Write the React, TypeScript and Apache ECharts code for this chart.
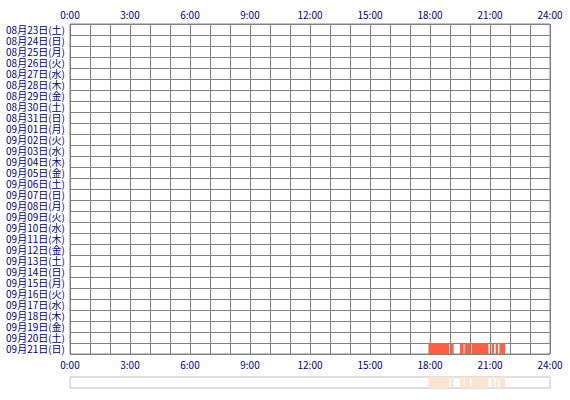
import React, { useEffect, useRef } from 'react';
import * as echarts from 'echarts';

// days shown on the y axis, top to bottom
const days = [
  '08月23日(土)', '08月24日(日)', '08月25日(月)', '08月26日(火)', '08月27日(水)',
  '08月28日(木)', '08月29日(金)', '08月30日(土)', '08月31日(日)', '09月01日(月)',
  '09月02日(火)', '09月03日(水)', '09月04日(木)', '09月05日(金)', '09月06日(土)',
  '09月07日(日)', '09月08日(月)', '09月09日(火)', '09月10日(水)', '09月11日(木)',
  '09月12日(金)', '09月13日(土)', '09月14日(日)', '09月15日(月)', '09月16日(火)',
  '09月17日(水)', '09月18日(木)', '09月19日(金)', '09月20日(土)', '09月21日(日)',
];

// active periods (hours of the day) on 09月21日
const segDay = '09月21日(日)';
const segStart = [17.92, 19.05, 19.5, 19.73, 20.08, 21.08, 21.28, 21.47];
const segEnd = [18.95, 19.18, 19.68, 20.0, 20.92, 21.2, 21.4, 21.75];

const hourTicks = [0, 3, 6, 9, 12, 15, 18, 21, 24];

const labelFont = '"Noto Sans CJK JP", "DejaVu Sans", sans-serif';
const navy = '#000080';

const App: React.FC = () => {
  const chartRef = useRef<HTMLDivElement>(null);

  useEffect(() => {
    if (!chartRef.current) return;
    const chart = echarts.init(chartRef.current, undefined, { renderer: 'svg' });

    const dayIndex = days.indexOf(segDay);
    const segData = segStart.map((s, i) => [s, segEnd[i], dayIndex]);
    const overviewData = segStart.map((s, i) => [s, segEnd[i], 0]);

    const makeRender = (color: string) => (params: any, api: any) => {
      const a = api.coord([api.value(0), api.value(2)]);
      const b = api.coord([api.value(1), api.value(2)]);
      const h = api.size([0, 1])[1];
      return {
        type: 'rect',
        shape: { x: a[0], y: a[1] - h / 2, width: b[0] - a[0], height: h },
        style: { fill: color },
      };
    };

    const hourLabel = {
      color: navy,
      fontSize: 10,
      fontFamily: labelFont,
      margin: 5,
      formatter: (v: number) => (hourTicks.indexOf(v) >= 0 ? `${v}:00` : ''),
    };

    const option: echarts.EChartsOption = {
      animation: false,
      backgroundColor: '#ffffff',
      grid: [
        { left: 70, right: 20, top: 24, height: 330, show: true, borderColor: '#808080', borderWidth: 1, backgroundColor: '#ffffff' },
        { left: 70, right: 20, top: 377, height: 11, show: true, borderColor: '#c0c0c0', borderWidth: 1 },
      ],
      xAxis: [
        {
          type: 'value', gridIndex: 0, position: 'bottom', min: 0, max: 24, interval: 1,
          axisLine: { show: false }, axisTick: { show: false },
          axisLabel: hourLabel,
          splitLine: { show: true, lineStyle: { color: '#808080', width: 1 } },
        },
        {
          type: 'value', gridIndex: 0, position: 'top', min: 0, max: 24, interval: 1,
          axisLine: { show: false }, axisTick: { show: false },
          axisLabel: hourLabel,
          splitLine: { show: false },
        },
        {
          type: 'value', gridIndex: 1, min: 0, max: 24, show: false,
        },
      ],
      yAxis: [
        {
          type: 'category', gridIndex: 0, data: days, inverse: true,
          axisLine: { show: false }, axisTick: { show: false },
          axisLabel: { interval: 0, color: navy, fontSize: 10, lineHeight: 10, fontFamily: labelFont, margin: 5 },
          splitLine: { show: true, interval: 0, lineStyle: { color: '#808080', width: 1 } },
        },
        {
          type: 'category', gridIndex: 1, data: ['all'], show: false,
        },
      ],
      series: [
        {
          type: 'custom',
          xAxisIndex: 0,
          yAxisIndex: 0,
          renderItem: makeRender('#ff5f45') as any,
          encode: { x: [0, 1], y: 2 },
          data: segData,
          z: 1,
        },
        {
          type: 'custom',
          xAxisIndex: 2,
          yAxisIndex: 1,
          renderItem: makeRender('#ffe2cf') as any,
          encode: { x: [0, 1], y: 2 },
          data: overviewData,
        },
      ],
    };

    chart.setOption(option);
    return () => chart.dispose();
  }, []);

  return (
    <div
      ref={chartRef}
      style={{ position: 'fixed', left: 0, top: 0, width: 570, height: 400 }}
    />
  );
};

export default App;
